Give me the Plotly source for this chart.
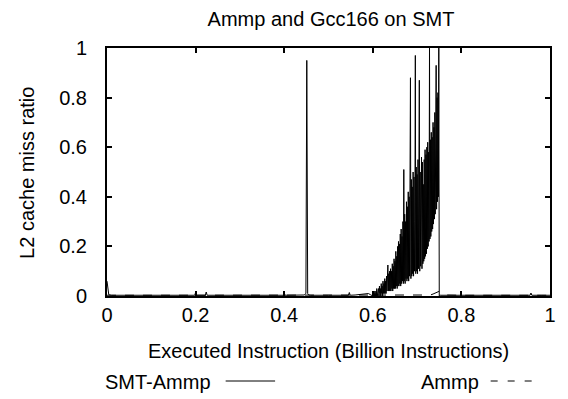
import numpy as np
import plotly.graph_objects as go

# ---- data ----
# SMT-Ammp: sparse part before the dense region
smt_x_pre = [0.0, 0.002, 0.004, 0.01, 0.05, 0.10, 0.15, 0.198, 0.200, 0.202, 0.222, 0.224, 0.226,
             0.30, 0.35, 0.398, 0.400, 0.402, 0.445, 0.449, 0.451, 0.453, 0.455, 0.46, 0.50,
             0.545, 0.547, 0.549, 0.56, 0.57, 0.58, 0.59, 0.595]
smt_y_pre = [0.06, 0.02, 0.005, 0.003, 0.003, 0.003, 0.003, 0.003, 0.014, 0.003, 0.003, 0.016, 0.003,
             0.003, 0.003, 0.003, 0.012, 0.003, 0.004, 0.01, 0.95, 0.01, 0.004, 0.003, 0.003,
             0.003, 0.014, 0.003, 0.004, 0.006, 0.008, 0.01, 0.005]
# dense oscillating region 0.600 .. 0.750 (step 0.001)
smt_y_dense = [
    0.00, 0.01, 0.00, 0.02, 0.00, 0.01, 0.00, 0.02, 0.00, 0.03,
    0.00, 0.02, 0.01, 0.03, 0.00, 0.04, 0.01, 0.03, 0.00, 0.05,
    0.01, 0.04, 0.00, 0.06, 0.01, 0.05, 0.01, 0.07, 0.01, 0.06,
    0.01, 0.08, 0.02, 0.07, 0.125, 0.02, 0.09, 0.02, 0.10, 0.02,
    0.11, 0.02, 0.10, 0.03, 0.13, 0.02, 0.12, 0.03, 0.15, 0.03,
    0.14, 0.03, 0.18, 0.04, 0.16, 0.03, 0.20, 0.04, 0.22, 0.04,
    0.21, 0.05, 0.25, 0.04, 0.27, 0.05, 0.24, 0.06, 0.30, 0.05,
    0.51, 0.06, 0.33, 0.05, 0.30, 0.07, 0.38, 0.06, 0.36, 0.07,
    0.42, 0.06, 0.40, 0.08, 0.45, 0.88, 0.07, 0.47, 0.08, 0.44,
    0.09, 0.50, 0.08, 0.48, 0.10, 0.30, 0.97, 0.09, 0.52, 0.10,
    0.49, 0.09, 0.55, 0.11, 0.53, 0.87, 0.10, 0.50, 0.12, 0.35,
    0.56, 0.11, 0.54, 0.13, 0.45, 0.14, 0.55, 0.15, 0.59, 0.16,
    0.57, 0.17, 0.60, 0.19, 0.62, 0.20, 0.58, 0.22, 1.00, 0.23,
    0.63, 0.24, 0.66, 0.26, 0.64, 0.27, 0.70, 0.29, 0.68, 0.31,
    0.74, 0.33, 0.78, 0.93, 0.35, 0.80, 0.38, 0.82, 0.40, 1.00,
    0.00,
]
smt_x_dense = list(np.round(np.linspace(0.600, 0.750, len(smt_y_dense)), 3))
# after the dense region
smt_x_post = [0.752, 0.80, 0.85, 0.90, 0.955, 0.957, 0.959, 0.98, 1.0]
smt_y_post = [0.003, 0.003, 0.003, 0.003, 0.003, 0.012, 0.003, 0.003, 0.003]

smt_x = smt_x_pre + smt_x_dense + smt_x_post
smt_y = smt_y_pre + smt_y_dense + smt_y_post

# Ammp (dashed)
ammp_x = [0.0, 0.10, 0.20, 0.30, 0.40, 0.50, 0.60, 0.70, 0.73, 0.736, 0.742, 0.746, 0.750,
          0.754, 0.758, 0.764, 0.80, 0.90, 1.0]
ammp_y = [0.003, 0.003, 0.005, 0.006, 0.006, 0.005, 0.004, 0.004, 0.004, 0.008, 0.014, 0.018, 0.019,
          0.016, 0.01, 0.004, 0.003, 0.003, 0.003]

x_ticks = [0, 0.2, 0.4, 0.6, 0.8, 1]
y_ticks = [0, 0.2, 0.4, 0.6, 0.8, 1]
series_names = ["SMT-Ammp", "Ammp"]
title_text = "Ammp and Gcc166 on SMT"
x_title = "Executed Instruction (Billion Instructions)"
y_title = "L2 cache miss ratio"

FONT = "Liberation Sans, Arial, sans-serif"
FS = 20

W, H = 568, 399
L, R, T, B = 107, 13, 48, 103
pw, ph = W - L - R, H - T - B


def px_to_paper(px, py):
    return (px - L) / pw, (H - B - py) / ph


fig = go.Figure()
fig.add_trace(go.Scatter(x=smt_x, y=smt_y, mode="lines", name=series_names[0],
                         line=dict(color="black", width=1), showlegend=False))
fig.add_trace(go.Scatter(x=ammp_x, y=ammp_y, mode="lines", name=series_names[1],
                         line=dict(color="black", width=1, dash="dash"), showlegend=False))

axis_common = dict(showline=True, linecolor="black", linewidth=2, mirror="ticks",
                   ticks="inside", ticklen=5, tickwidth=1.5, tickcolor="black",
                   showgrid=False, zeroline=False,
                   tickfont=dict(family=FONT, size=FS, color="black"))
fig.update_xaxes(range=[0, 1], tickvals=x_ticks, ticktext=[f"{v:g}" for v in x_ticks],
                 ticklabelstandoff=0, **axis_common)
fig.update_yaxes(range=[0, 1], tickvals=y_ticks, ticktext=[f"{v:g}" for v in y_ticks],
                 ticklabelstandoff=14, **axis_common)

tfont = dict(family=FONT, size=FS, color="black")

# axis titles
ax_, ay_ = px_to_paper(331, 351)
fig.add_annotation(x=ax_, y=ay_, xref="paper", yref="paper", text=x_title, showarrow=False,
                   xanchor="center", yanchor="middle", font=tfont)
ax_, ay_ = px_to_paper(26, 173)
fig.add_annotation(x=ax_, y=ay_, xref="paper", yref="paper", text=y_title, showarrow=False,
                   xanchor="center", yanchor="middle", textangle=-90, font=tfont)

# legend drawn as text + line samples (text before the sample, as in the reference)
for name, (px, py) in zip(series_names, [(103, 382), (423, 382)]):
    ax_, ay_ = px_to_paper(px, py)
    fig.add_annotation(x=ax_, y=ay_, xref="paper", yref="paper", text=name,
                       showarrow=False, xanchor="left", yanchor="middle", font=tfont)

x0, y0 = px_to_paper(227, 381)
x1, _ = px_to_paper(277, 381)
fig.add_shape(type="line", xref="paper", yref="paper", x0=x0, x1=x1, y0=y0, y1=y0,
              line=dict(color="black", width=1))
x0, y0 = px_to_paper(495, 381)
x1, _ = px_to_paper(542, 381)
fig.add_shape(type="line", xref="paper", yref="paper", x0=x0, x1=x1, y0=y0, y1=y0,
              line=dict(color="black", width=1, dash="7px,10px"))

fig.update_layout(
    width=W, height=H,
    margin=dict(l=L, r=R, t=T, b=B),
    paper_bgcolor="white", plot_bgcolor="white",
    title=dict(text=title_text, x=(L + pw / 2) / W, xanchor="center",
               y=1 - 19 / H, yanchor="middle", font=tfont),
    font=dict(family=FONT, color="black"),
    showlegend=False,
)

fig.write_html("out.html")
